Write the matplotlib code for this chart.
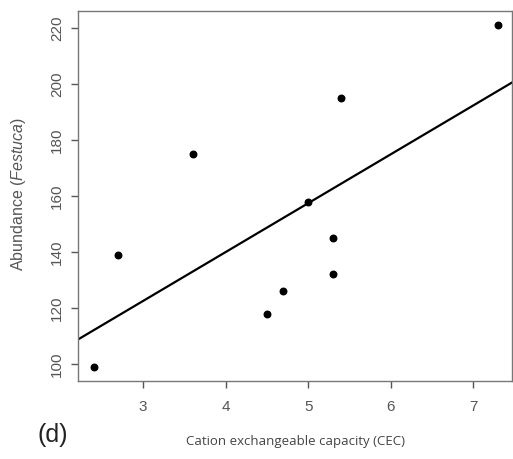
import numpy as np
import matplotlib.pyplot as plt

plt.rcParams['font.family'] = ['Liberation Sans', 'DejaVu Sans']
plt.rcParams['mathtext.fontset'] = 'custom'
plt.rcParams['mathtext.rm'] = 'Liberation Sans'
plt.rcParams['mathtext.it'] = 'Liberation Sans:italic'

cec = [2.4, 2.7, 3.6, 4.5, 4.7, 5.0, 5.3, 5.3, 5.4, 7.3]
abundance = [99, 139, 175, 118, 126, 158, 145, 132, 195, 221]
xticks = [3, 4, 5, 6, 7]
yticks = [100, 120, 140, 160, 180, 200, 220]

fig = plt.figure(figsize=(5.13, 4.59), dpi=100)
ax = fig.add_axes([78 / 513, 1 - 381 / 459, 434 / 513, 370 / 459])

ax.scatter(cec, abundance, s=22, color='black', zorder=3)

# fitted line, drawn across the full axes like R's abline
slope, intercept = np.polyfit(cec, abundance, 1)
ax.set_xlim(2.21, 7.47)
ax.set_ylim(93.9, 226.1)
xl = np.array(ax.get_xlim())
ax.plot(xl, intercept + slope * xl, color='black', linewidth=1.6)

ax.set_xticks(xticks)
ax.set_yticks(yticks)
ax.tick_params(direction='out', length=5, width=1, color='#555555',
               labelcolor='#555555', labelsize=11)
ax.tick_params(axis='x', pad=9)
ax.tick_params(axis='y', pad=5)
for lab in ax.get_yticklabels():
    lab.set_rotation(90)
    lab.set_va('center')
for sp in ax.spines.values():
    sp.set_color('#777777')
    sp.set_linewidth(1)

fig.text(19 / 513, 1 - 194 / 459, r'Abundance ($\it{Festuca}$)', rotation=90,
         ha='center', va='center', fontsize=11.5, color='#555555')
fig.text(295 / 513, 1 - 442 / 459, 'Cation exchangeable capacity (CEC)',
         ha='center', va='center', fontsize=9.5, color='#444444', family='Open Sans')
fig.text(53 / 513, 1 - 435 / 459, '(d)', ha='center', va='center',
         fontsize=18, color='#222222')

plt.savefig('out.png', dpi=100)
